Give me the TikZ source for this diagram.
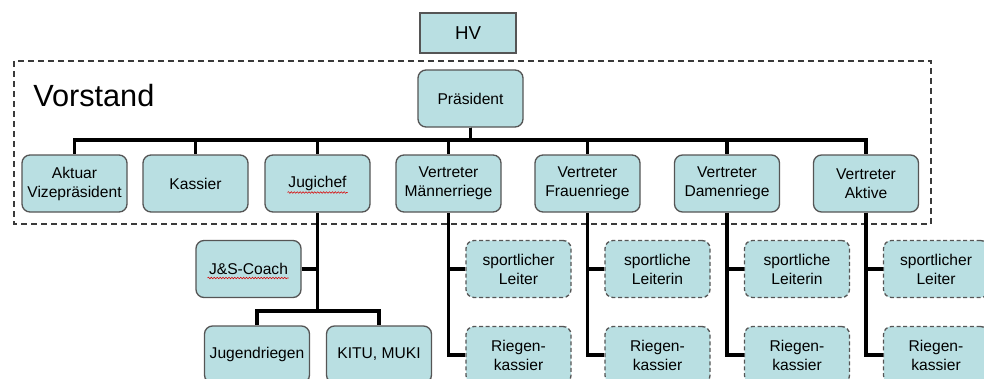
\documentclass[tikz,border=0pt]{standalone}
\usepackage{fontspec}
\setmainfont{Liberation Sans}
\usepackage{xcolor}
\usepackage{tikz}
\usetikzlibrary{calc,positioning,decorations.pathmorphing}
\definecolor{boxfill}{HTML}{B9DFE2}
\definecolor{boxline}{HTML}{555555}
\definecolor{framec}{HTML}{3A3A3A}
\tikzset{
  unit/.style={draw=boxline,line width=1pt,rounded corners=6pt,fill=boxfill,
    minimum width=78.75pt,minimum height=42.75pt,inner sep=2pt,align=center,
    font=\fontsize{11.7}{14.2}\selectfont},
  subunit/.style={unit,dash pattern=on 3pt off 2pt},   % dashed: Riegen posts
  hvbox/.style={unit,rounded corners=0pt,minimum width=72pt,minimum height=30pt,
    font=\fontsize{14}{16}\selectfont},
  conn/.style={draw=black,line width=2.6pt},
  frame/.style={draw=framec,line width=1.1pt,dash pattern=on 4.5pt off 3pt},
  squig/.style={draw=red!85!black,line width=0.4pt,decorate,
    decoration={snake,amplitude=0.6pt,segment length=2.2pt}},
}

\begin{document}
\begin{tikzpicture}[x=0.75pt,y=-0.75pt]
  \useasboundingbox (0,0) rectangle (984,378);
  \clip (0,0) rectangle (984,378);
  % --- Vorstand ---
  \draw[frame] (14,61) rectangle (931,224);
  \node[inner sep=0pt,anchor=west,font=\fontsize{23}{26}\selectfont] (vorstand) at (33,96) {Vorstand};
  \node[hvbox] (hv) at (468,33) {HV};
  \node[unit] (praes) at (470.5,98.5) {Präsident};
  \node[unit] (aktuar)  at (74.5,183.5)  {Aktuar\\Vizepräsident};
  \node[unit] (kassier) at (195.5,183.5) {Kassier};
  \node[unit] (jugi)    at (317.5,183.5) {Jugichef};
  \node[unit] (maenner) at (448.5,183.5) {Vertreter\\Männerriege};
  \node[unit] (frauen)  at (587.5,183.5) {Vertreter\\Frauenriege};
  \node[unit] (damen)   at (727,183.5)   {Vertreter\\Damenriege};
  \node[unit] (aktive)  at (866,183.5)   {Vertreter\\Aktive};
  \coordinate (bus) at (0,140);
  \foreach \c in {aktuar,kassier,jugi,maenner,frauen,damen,aktive}
    \draw[conn] (praes.south) -- (praes.south |- bus) -| (\c.north);
  % --- Jugi ---
  \node[unit] (coach)  at (248.5,269) {J\&S-Coach};
  \node[unit] (jugend) at (257,354.5) {Jugendriegen};
  \node[unit] (kitu)   at (379,354.5) {KITU, MUKI};
  \coordinate (jsplit) at (317.5,311);
  \draw[conn] (jugi.south) -- (jsplit);
  \draw[conn] (jugend.north) |- (jsplit) -| (kitu.north);
  \draw[conn] (coach.east) -- (coach.east -| jsplit);
  \draw[squig] ($(jugi.center)+(-30,9)$) -- ($(jugi.center)+(30,9)$);
  \draw[squig] ($(coach.center)+(-41,9)$) -- ($(coach.center)+(40,9)$);
  % --- Riegen ---
  \foreach \r/\t in {maenner/{sportlicher\\Leiter},frauen/{sportliche\\Leiterin},
                     damen/{sportliche\\Leiterin},aktive/{sportlicher\\Leiter}}{
    \node[subunit] (leit-\r) at ($(\r)+(70,85.5)$) {\t};
    \node[subunit] (kass-\r) at ($(\r)+(70,171.5)$) {Riegen-\\kassier};
    \draw[conn] (\r.south) |- (kass-\r.west);
    \draw[conn] (leit-\r.west) -- (leit-\r.west -| \r.south);
  }
\end{tikzpicture}
\end{document}
